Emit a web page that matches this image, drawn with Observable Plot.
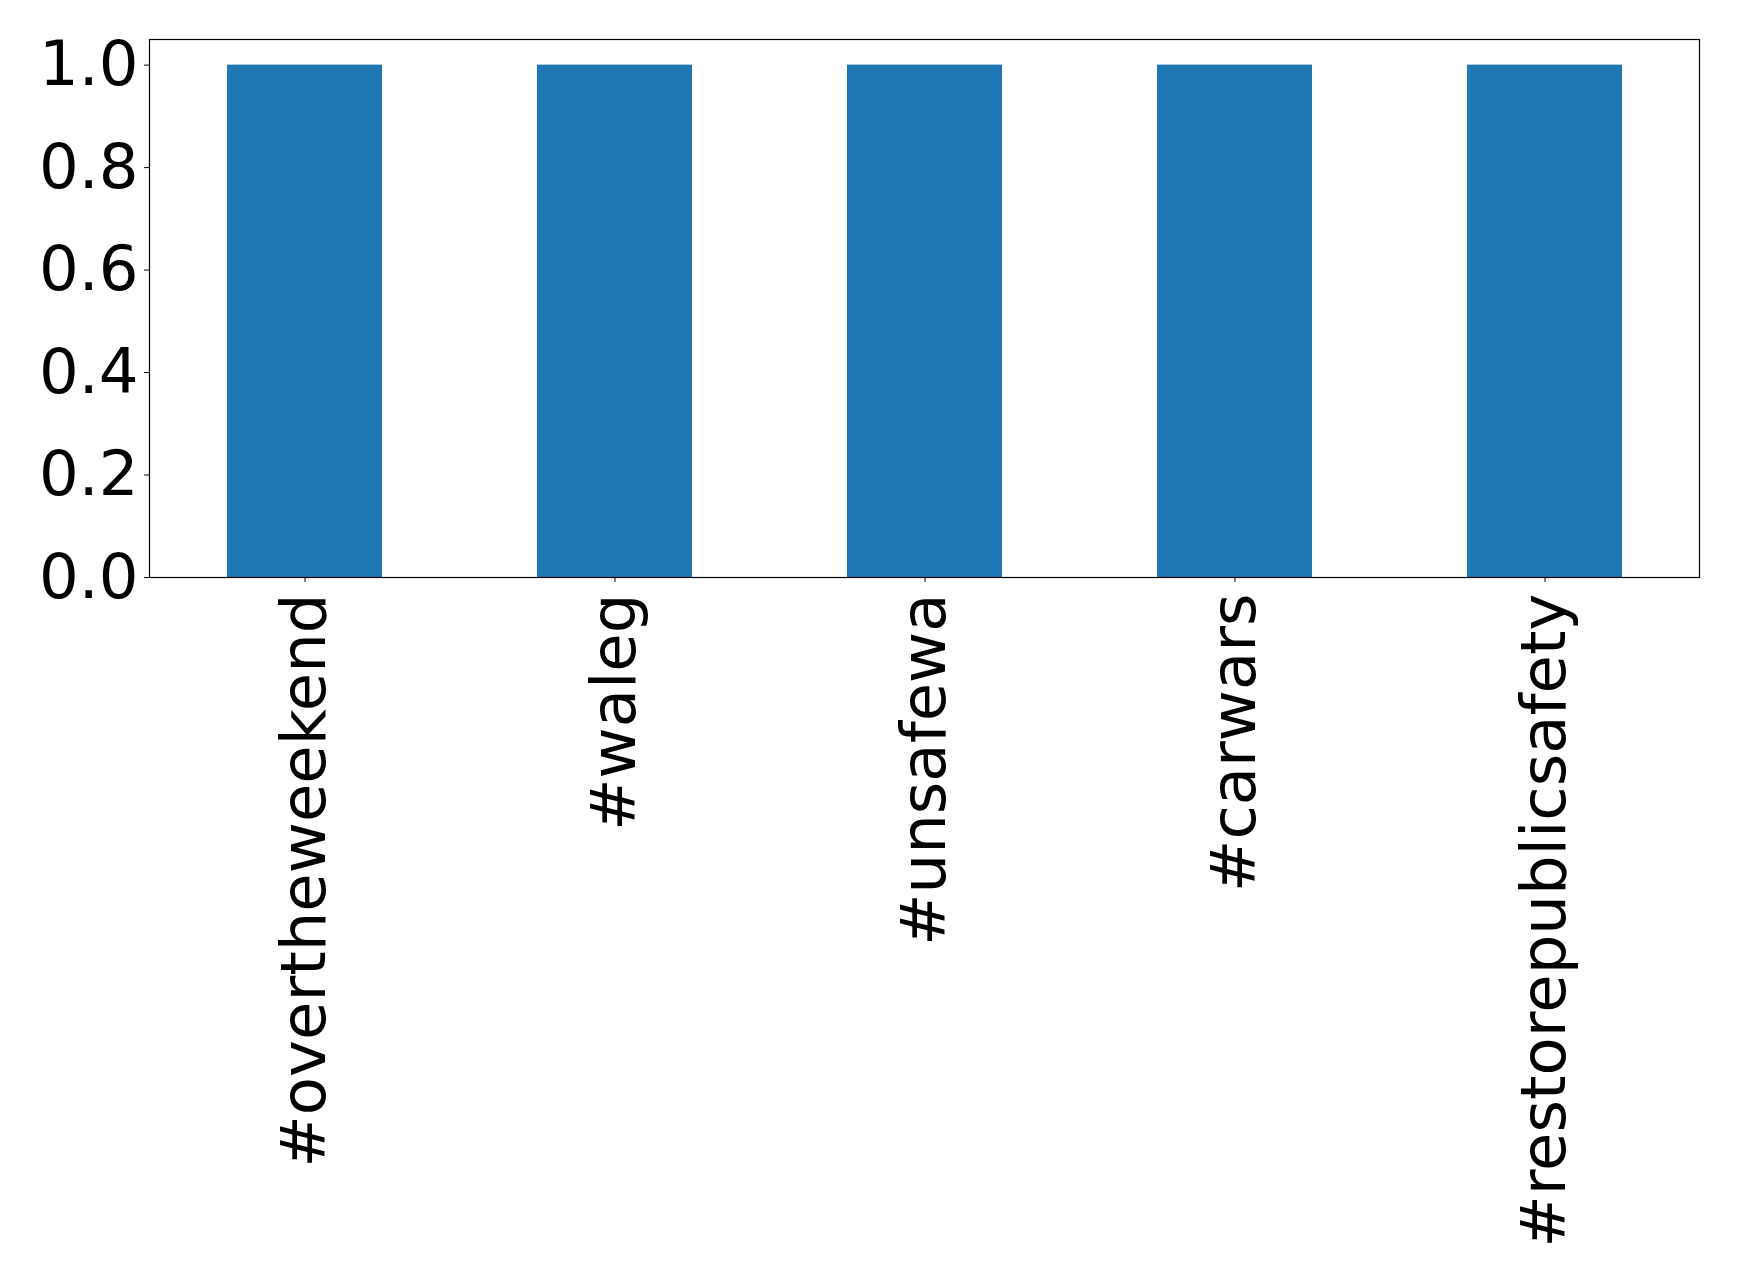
<!DOCTYPE html>
<html>
<head>
<meta charset="utf-8">
<script src="https://cdn.jsdelivr.net/npm/d3@7"></script>
<script src="https://cdn.jsdelivr.net/npm/@observablehq/plot@0.6"></script>
<style>
  html, body { margin: 0; padding: 0; background: white; }
</style>
</head>
<body>
<div id="chart"></div>
<script>
const tags = ["#overtheweekend", "#waleg", "#unsafewa", "#carwars", "#restorepublicsafety"];
const counts = [1, 1, 1, 1, 1];
const yTicks = [0, 0.2, 0.4, 0.6, 0.8, 1.0];

const data = tags.map((t, i) => ({tag: t, count: counts[i]}));

const chart = Plot.plot({
  width: 1739,
  height: 1282,
  marginLeft: 149,
  marginRight: 40,
  marginTop: 39,
  marginBottom: 705,
  style: {fontFamily: "DejaVu Sans", fontSize: "62.5px", color: "black", background: "white"},
  x: {domain: tags, paddingInner: 0.5, paddingOuter: 0.25},
  y: {domain: [0, 1.05]},
  marks: [
    Plot.barY(data, {x: "tag", y: "count", fill: "#1f77b4"}),
    Plot.frame({stroke: "black", strokeWidth: 1.2}),
    Plot.axisY({ticks: yTicks, tickFormat: d => d.toFixed(1), tickSize: 5, tickPadding: 6, fontSize: 62.5, label: null, stroke: "black"}),
    Plot.axisX({tickRotate: -90, tickSize: 5, tickPadding: 11, fontSize: 62.5, label: null, stroke: "black"})
  ]
});
document.getElementById("chart").appendChild(chart);
</script>
</body>
</html>
